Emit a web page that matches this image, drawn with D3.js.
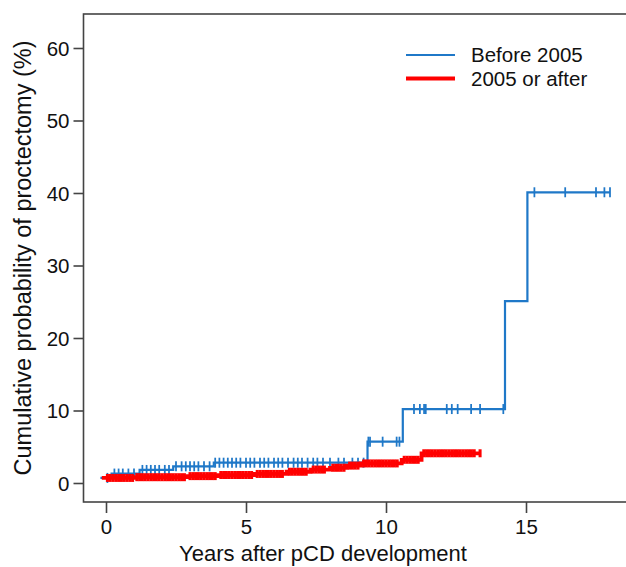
<!doctype html>
<html>
<head>
<meta charset="UTF-8">
<script src="https://d3js.org/d3.v7.min.js"></script>
<style>
body { margin:0; background:#fff; }
text { font-family: "Liberation Sans", Arial, sans-serif; fill:#111; }
</style>
</head>
<body>
<script>
// x ticks / y ticks
var xTicks = [0, 5, 10, 15];
var yTicks = [0, 10, 20, 30, 40, 50, 60];

// Before 2005: step times (years) and cumulative probability (%)
var blueTimes = [-0.2, 0.2, 1.2, 2.4, 3.85, 9.34, 10.6, 14.25, 15.05];
var blueVals  = [0.7, 1.3, 1.8, 2.3, 2.8, 5.7, 10.2, 25.1, 40.1];
var blueEnd = 18.0;
var blueCensor = [0.05,0.3,0.45,0.6,0.8,1.0,1.3,1.45,1.6,1.75,1.9,2.1,2.25,2.5,2.7,2.85,3.0,3.15,3.3,3.5,3.7,
  3.9,4.05,4.2,4.35,4.5,4.65,4.8,5.0,5.15,5.3,5.5,5.65,5.8,6.0,6.15,6.3,6.5,6.7,6.85,7.0,7.2,7.4,7.55,7.75,
  8.0,8.3,8.5,8.8,9.0,9.2,9.37,9.43,9.88,10.38,10.48,11.0,11.21,11.36,11.42,12.17,12.35,12.56,13.04,13.36,
  14.19,15.3,16.4,17.5,17.8,18.0];

// 2005 or after
var redTimes = [-0.15, 1.0, 2.9, 4.0, 5.3, 6.45, 7.3, 8.0, 8.6, 9.1, 10.56, 11.27];
var redVals  = [0.7, 0.8, 0.95, 1.1, 1.25, 1.55, 1.85, 2.1, 2.4, 2.7, 3.2, 4.1];
var redEnd = 13.36;
var redCensor = [0.05,0.15,0.25,0.35,0.45,0.55,0.65,0.75,0.85,0.95,1.1,1.2,1.3,1.4,1.5,1.6,1.7,1.8,1.9,2.0,
  2.1,2.2,2.3,2.4,2.5,2.6,2.7,2.8,3.0,3.1,3.2,3.3,3.4,3.5,3.6,3.7,3.8,3.9,4.1,4.2,4.3,4.4,4.5,4.6,4.7,4.8,
  4.9,5.0,5.1,5.2,5.4,5.5,5.6,5.7,5.8,5.9,6.0,6.1,6.2,6.3,6.55,6.65,6.75,6.85,6.95,7.05,7.15,7.4,7.5,7.6,
  7.7,7.8,8.1,8.2,8.3,8.4,8.5,8.7,8.8,8.9,9.0,9.2,9.3,9.4,9.5,9.6,9.7,9.8,9.9,10.0,10.1,10.2,10.3,10.4,
  10.65,10.75,10.85,10.95,11.05,11.15,11.35,11.45,11.55,11.65,11.75,11.85,11.95,12.05,12.15,12.25,12.35,
  12.45,12.55,12.65,12.75,12.85,12.95,13.05,13.15,13.36];

var blueCol = "#1f78c8", redCol = "#ff0000";

var svg = d3.select("body").append("svg").attr("width", 626).attr("height", 567);

var x = d3.scaleLinear().domain([0, 15]).range([106, 526]);
var y = d3.scaleLinear().domain([0, 60]).range([483, 48]);

// plot box (right side runs off the page)
svg.append("rect")
  .attr("x", 83.5).attr("y", 14)
  .attr("width", 560).attr("height", 488)
  .attr("fill", "none").attr("stroke", "#444").attr("stroke-width", 1.6);

// axes
var yAxis = d3.axisLeft(y).tickValues(yTicks).tickSize(10).tickPadding(4);
var gy = svg.append("g").attr("transform", "translate(83.5,0)").call(yAxis);
gy.select(".domain").remove();
gy.selectAll("line").attr("stroke", "#444").attr("stroke-width", 1.6);
gy.selectAll("text").style("font-size", "20.5px").attr("fill", "#111").attr("dy", "0.36em");

var xAxis = d3.axisBottom(x).tickValues(xTicks).tickSize(11).tickPadding(6);
var gx = svg.append("g").attr("transform", "translate(0,502)").call(xAxis);
gx.select(".domain").remove();
gx.selectAll("line").attr("stroke", "#444").attr("stroke-width", 1.6);
gx.selectAll("text").style("font-size", "20.5px").attr("fill", "#111");

function stepPts(times, vals, end) {
  var pts = times.map(function(t, i){ return [t, vals[i]]; });
  pts.push([end, vals[vals.length - 1]]);
  return pts;
}
function valAt(times, vals, t) {
  var v = vals[0];
  for (var i = 0; i < times.length; i++) if (times[i] <= t) v = vals[i];
  return v;
}

var line = d3.line().curve(d3.curveStepAfter)
  .x(function(d){ return x(d[0]); })
  .y(function(d){ return y(d[1]); });

function drawCurve(times, vals, end, censor, col, lw, half) {
  svg.append("path")
    .attr("d", line(stepPts(times, vals, end)))
    .attr("fill", "none").attr("stroke", col).attr("stroke-width", lw);
  svg.append("g").selectAll("line").data(censor).join("line")
    .attr("x1", function(d){ return x(d); }).attr("x2", function(d){ return x(d); })
    .attr("y1", function(d){ return y(valAt(times, vals, d)) - half; })
    .attr("y2", function(d){ return y(valAt(times, vals, d)) + half; })
    .attr("stroke", col).attr("stroke-width", lw * 0.8);
}

drawCurve(blueTimes, blueVals, blueEnd, blueCensor, blueCol, 2.2, 5);
drawCurve(redTimes, redVals, redEnd, redCensor, redCol, 3.8, 4);

// legend
var legend = [["Before 2005", blueCol, 2.2], ["2005 or after", redCol, 3.8]];
legend.forEach(function(l, i){
  var ly = 55 + i * 23.5;
  svg.append("line").attr("x1", 406).attr("x2", 455).attr("y1", ly).attr("y2", ly)
    .attr("stroke", l[1]).attr("stroke-width", l[2]);
  svg.append("text").attr("x", 471).attr("y", ly + 7).style("font-size", "20.5px").text(l[0]);
});

// axis titles
svg.append("text").attr("text-anchor", "middle")
  .attr("transform", "translate(323,561)")
  .style("font-size", "22px").text("Years after pCD development");
svg.append("text").attr("text-anchor", "middle")
  .attr("transform", "translate(31,258)rotate(-90)")
  .style("font-size", "23.5px").text("Cumulative probability of proctectomy (%)");
</script>
</body>
</html>
